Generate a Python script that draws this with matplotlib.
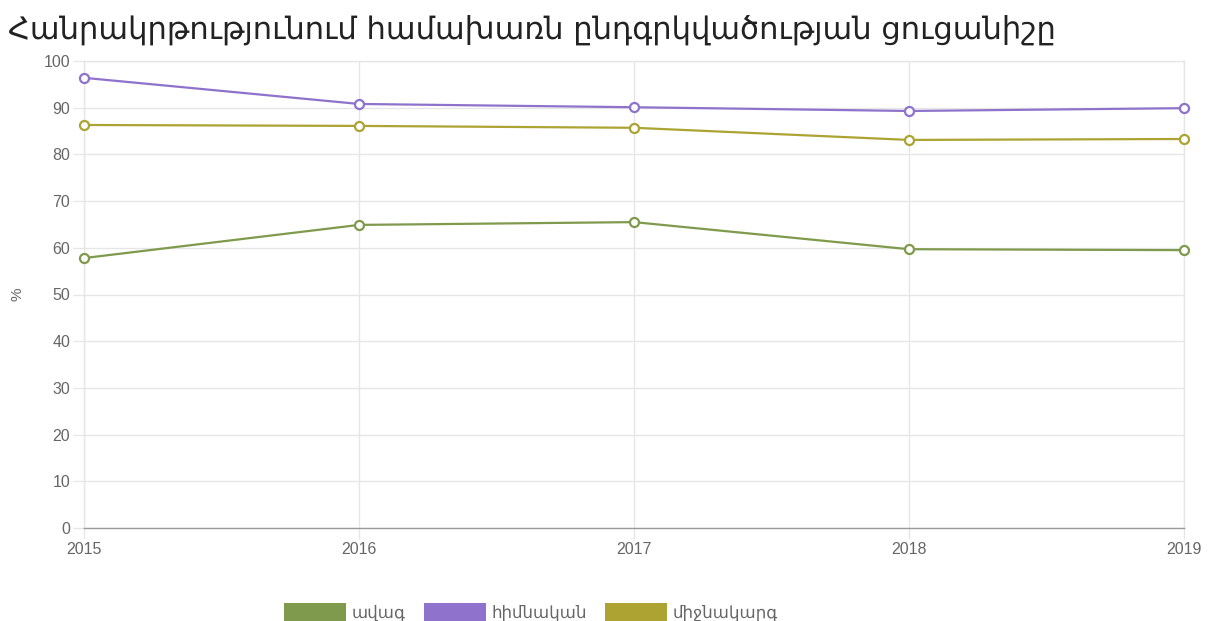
import matplotlib
matplotlib.use("Agg")
import matplotlib.pyplot as plt
from matplotlib.patches import Patch

# Data
years = [2015, 2016, 2017, 2018, 2019]
avag = [57.8, 64.9, 65.5, 59.7, 59.5]          # ավագ
himnakan = [96.4, 90.8, 90.1, 89.3, 89.9]      # հիմնական
mijnakarg = [86.3, 86.1, 85.7, 83.1, 83.3]     # միջնակարգ

series_names = ["ավագ", "հիմնական", "միջնակարգ"]
series_colors = ["#7f9a4c", "#8e72cc", "#aca332"]
title = "Հանրակրթությունում համախառն ընդգրկվածության ցուցանիշը"

plt.rcParams['font.family'] = ['Liberation Sans', 'DejaVu Sans']


def main():
    fig = plt.figure(figsize=(12.11, 6.21), dpi=100)
    ax = fig.add_axes([84 / 1211, 1 - 528 / 621, 1100 / 1211, 467 / 621])

    for values, color in zip([avag, himnakan, mijnakarg], series_colors):
        ax.plot(years, values, color=color, lw=1.6, marker='o', ms=6.5,
                mfc='white', mec=color, mew=1.6, zorder=3, clip_on=False)

    ax.set_xlim(years[0], years[-1])
    ax.set_ylim(0, 100)
    ax.set_xticks(years)
    ax.set_yticks(range(0, 101, 10))
    ax.grid(True, color='#e6e6e6', lw=1)
    ax.set_axisbelow(True)

    for side in ['top', 'right', 'left']:
        ax.spines[side].set_color('#e6e6e6')
        ax.spines[side].set_linewidth(1)
    ax.spines['bottom'].set_color('#9a9a9a')
    ax.spines['bottom'].set_linewidth(1)

    ax.tick_params(axis='both', length=8, width=1, color='#e6e6e6',
                   labelcolor='#666666', labelsize=11.5, pad=2)
    ax.set_ylabel('%', color='#666666', fontsize=11, labelpad=14)

    fig.text(8 / 1211, 1 - 30 / 621, title, fontsize=22, color='#222222',
             va='center', ha='left', family='DejaVu Sans')

    handles = [Patch(facecolor=c, edgecolor='none') for c in series_colors]
    fig.legend(handles, series_names, loc='center', ncol=3,
               bbox_to_anchor=(531 / 1211, 1 - 612 / 621), frameon=False,
               fontsize=12, handlelength=3.7, handleheight=1.3,
               handletextpad=0.35, columnspacing=1.1, labelcolor='#666666',
               borderaxespad=0, borderpad=0)

    fig.savefig('out.png', dpi=100)


if __name__ == '__main__':
    main()
